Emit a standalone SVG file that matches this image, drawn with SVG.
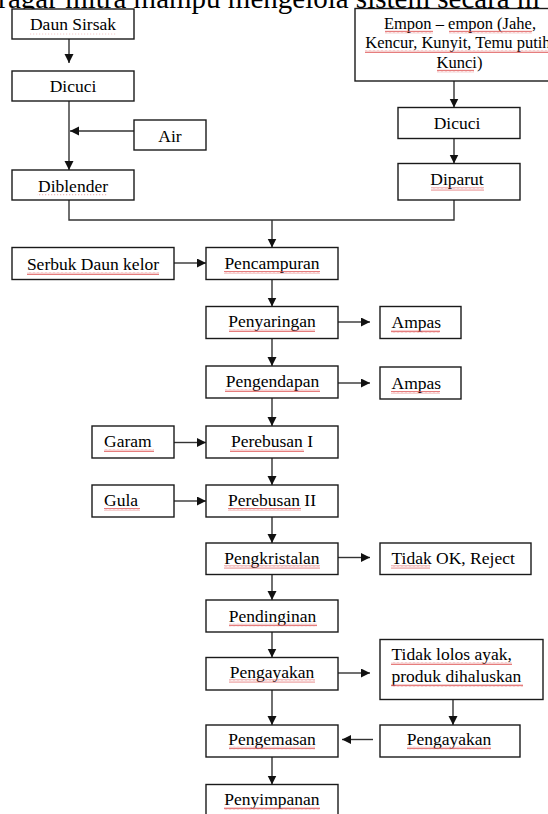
<svg xmlns="http://www.w3.org/2000/svg" width="548" height="814" viewBox="0 0 548 814">
<style>
.box{fill:#fff;stroke:#1a1a1a;stroke-width:1.4}
.t{font-family:"Liberation Serif","Times New Roman",serif;font-size:17.5px;fill:#000}
.m{text-anchor:middle}
.e{font-size:16.5px}
.hdr{font-family:"Liberation Serif","Times New Roman",serif;font-size:29px;fill:#000}
.c{fill:none;stroke:#333;stroke-width:1.4}
.a{marker-end:url(#ah)}
.w{fill:url(#wave)}
.d{fill:url(#dots)}
</style>
<defs>
<marker id="ah" markerUnits="userSpaceOnUse" markerWidth="10" markerHeight="10" refX="9" refY="4.5" orient="auto">
<path d="M0,0 L9,4.5 L0,9 Z" fill="#111"/>
</marker>
<pattern id="wave" patternUnits="userSpaceOnUse" width="4" height="3">
<path d="M0,2.4 L1,0.6 L2,2.4 L3,0.6 L4,2.4" fill="none" stroke="#e05a5a" stroke-width="0.8"/>
</pattern>
<pattern id="dots" patternUnits="userSpaceOnUse" width="3" height="2">
<rect x="0" y="0" width="1.2" height="1.2" fill="#e07a7a"/>
</pattern>
</defs>

<text class="hdr" x="-2" y="8">r<tspan x="8">agar mitra mampu mengelola sistem secara m</tspan></text>

<g id="connectors">
<path class="c a" d="M69,39 V63"/>
<path class="c a" d="M69,101 V170"/>
<path class="c a" d="M134,131 H70"/>
<path class="c" d="M69,200 V220 H454 V200"/>
<path class="c a" d="M272,220 V247.5"/>
<path class="c a" d="M454,81 V107.5"/>
<path class="c a" d="M454,138.5 V163.5"/>
<path class="c a" d="M174,263 H206"/>
<path class="c a" d="M272,279.5 V306.5"/>
<path class="c a" d="M338,322 H370"/>
<path class="c a" d="M272,338.5 V366"/>
<path class="c a" d="M338,383 H370"/>
<path class="c a" d="M272,398 V426"/>
<path class="c a" d="M174,442.5 H206"/>
<path class="c a" d="M272,458 V485"/>
<path class="c a" d="M174,501 H206"/>
<path class="c a" d="M272,517 V543"/>
<path class="c a" d="M338,557.5 H370"/>
<path class="c a" d="M272,574.5 V600"/>
<path class="c a" d="M272,632 V657.5"/>
<path class="c a" d="M338,673 H370"/>
<path class="c a" d="M453,699.5 V725"/>
<path class="c a" d="M272,690 V725"/>
<path class="c a" d="M373,739.5 H342"/>
<path class="c a" d="M272,757 V784.5"/>
</g>

<g id="daun-sirsak"><rect class="box" x="12" y="9" width="122" height="30"/><text class="t m" x="73" y="30">Daun Sirsak</text></g>
<g id="dicuci-1"><rect class="box" x="12" y="71" width="122" height="30"/><text class="t m" x="73" y="92">Dicuci</text></g>
<g id="air"><rect class="box" x="134" y="120" width="72" height="30"/><text class="t m" x="170" y="141.5">Air</text></g>
<g id="diblender"><rect class="box" x="12" y="170" width="122" height="30"/><text class="t m" x="73" y="191.5">Diblender</text></g>
<g id="empon"><rect class="box" x="355" y="8.5" width="210" height="72.5"/>
<text class="t e m" x="460" y="28.5">Empon – empon (Jahe,</text>
<text class="t e m" x="460" y="48">Kencur, Kunyit, Temu putih,</text>
<text class="t e m" x="459.5" y="67.5">Kunci)</text></g>
<g id="dicuci-2"><rect class="box" x="398" y="107.5" width="122" height="31"/><text class="t m" x="457" y="128.5">Dicuci</text></g>
<g id="diparut"><rect class="box" x="398" y="163.5" width="122" height="36.5"/><text class="t m" x="457" y="185">Diparut</text></g>
<g id="serbuk"><rect class="box" x="12" y="247.5" width="162" height="32"/><text class="t m" x="93" y="270">Serbuk Daun kelor</text></g>
<g id="pencampuran"><rect class="box" x="206" y="247.5" width="132" height="32"/><text class="t m" x="272" y="269">Pencampuran</text></g>
<g id="penyaringan"><rect class="box" x="206" y="306.5" width="132" height="32"/><text class="t m" x="272" y="327">Penyaringan</text></g>
<g id="ampas-1"><rect class="box" x="380" y="306.5" width="81" height="32"/><text class="t" x="391.5" y="328">Ampas</text></g>
<g id="pengendapan"><rect class="box" x="206" y="366" width="132" height="32"/><text class="t m" x="272.5" y="387">Pengendapan</text></g>
<g id="ampas-2"><rect class="box" x="380" y="367" width="81" height="32"/><text class="t" x="391.5" y="389">Ampas</text></g>
<g id="garam"><rect class="box" x="92" y="426" width="82" height="32"/><text class="t" x="104" y="447">Garam</text></g>
<g id="perebusan-1"><rect class="box" x="206" y="426" width="132" height="32"/><text class="t m" x="272" y="447">Perebusan I</text></g>
<g id="gula"><rect class="box" x="92" y="485" width="82" height="32"/><text class="t" x="104" y="506">Gula</text></g>
<g id="perebusan-2"><rect class="box" x="206" y="485" width="132" height="32"/><text class="t m" x="272" y="506">Perebusan II</text></g>
<g id="pengkristalan"><rect class="box" x="206" y="543" width="132" height="31.5"/><text class="t m" x="272" y="563.5">Pengkristalan</text></g>
<g id="tidak-ok"><rect class="box" x="380" y="543" width="151" height="31.5"/><text class="t" x="391.5" y="563.5">Tidak OK, Reject</text></g>
<g id="pendinginan"><rect class="box" x="206" y="600" width="132" height="32"/><text class="t m" x="272.5" y="621.5">Pendinginan</text></g>
<g id="pengayakan-1"><rect class="box" x="206" y="657.5" width="132" height="32.5"/><text class="t m" x="272" y="677.5">Pengayakan</text></g>
<g id="tidak-lolos"><rect class="box" x="380" y="639.5" width="163" height="60"/>
<text class="t" x="391.5" y="660">Tidak lolos ayak,</text>
<text class="t" x="391.5" y="682">produk dihaluskan</text></g>
<g id="pengayakan-2"><rect class="box" x="380" y="725" width="140" height="32"/><text class="t m" x="449" y="744.5">Pengayakan</text></g>
<g id="pengemasan"><rect class="box" x="206" y="725" width="132" height="32"/><text class="t m" x="272" y="744.5">Pengemasan</text></g>
<g id="penyimpanan"><rect class="box" x="206" y="784.5" width="132" height="36"/><text class="t m" x="272" y="805">Penyimpanan</text></g>

<g id="spellcheck-marks">
<rect class="d" x="30" y="33" width="87" height="1.2"/>
<rect class="d" x="37" y="194.5" width="71" height="1.2"/>
<rect class="w" x="385" y="30.5" width="48" height="3"/>
<rect class="w" x="449" y="30.5" width="83" height="3"/>
<rect class="w" x="365" y="50" width="183" height="3"/>
<rect class="w" x="437" y="69.5" width="37" height="3"/>
<rect class="w" x="431" y="187.5" width="53" height="3"/>
<rect class="w" x="27" y="272" width="132" height="3"/>
<rect class="w" x="224" y="271" width="96" height="3"/>
<rect class="w" x="229" y="329" width="86" height="3"/>
<rect class="w" x="391" y="330" width="49" height="3"/>
<rect class="w" x="225" y="389" width="95" height="3"/>
<rect class="w" x="391" y="391" width="49" height="3"/>
<rect class="w" x="104" y="449" width="50" height="3"/>
<rect class="w" x="230" y="449" width="74" height="3"/>
<rect class="w" x="104" y="508" width="36" height="3"/>
<rect class="w" x="228" y="508" width="73" height="3"/>
<rect class="w" x="224" y="565.5" width="96" height="3"/>
<rect class="w" x="391" y="565.5" width="39" height="3"/>
<rect class="w" x="229" y="623.5" width="88" height="3"/>
<rect class="w" x="229" y="679.5" width="86" height="3"/>
<rect class="w" x="391" y="662" width="121" height="3"/>
<rect class="w" x="391" y="684" width="132" height="3"/>
<rect class="w" x="407" y="746.5" width="84" height="3"/>
<rect class="w" x="229" y="746.5" width="86" height="3"/>
<rect class="w" x="224" y="807" width="96" height="3"/>
</g>
</svg>
